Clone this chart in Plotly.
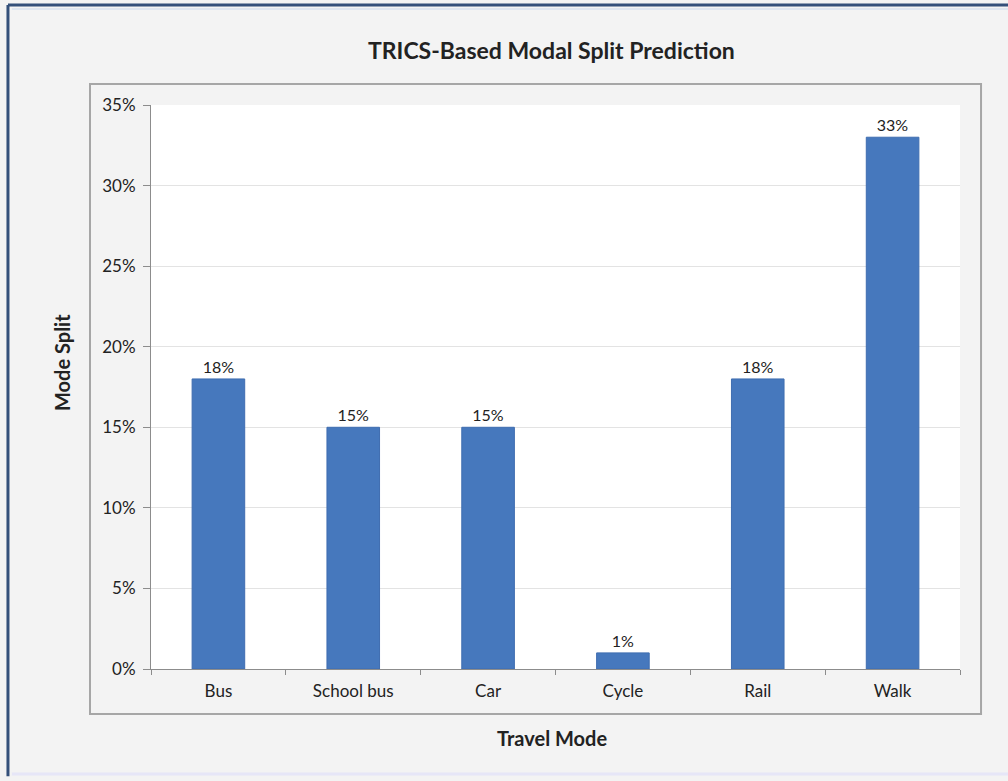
import plotly.graph_objects as go

modes = ["Bus", "School bus", "Car", "Cycle", "Rail", "Walk"]
split_pct = [18, 15, 15, 1, 18, 33]
y_ticks = [0, 5, 10, 15, 20, 25, 30, 35]
y_tick_labels = [f"{v}%" for v in y_ticks]

FONT = "Lato, 'Open Sans', sans-serif"

fig = go.Figure(
    go.Bar(
        x=modes,
        y=split_pct,
        width=0.39,
        marker=dict(color="#4678bd", line=dict(color="#3f6db0", width=1)),
        text=[f"{v}%" for v in split_pct],
        textposition="outside",
        textfont=dict(size=16, color="#222222", family=FONT),
        cliponaxis=False,
    )
)

fig.update_layout(
    width=1008,
    height=781,
    margin=dict(l=151, r=48, t=105, b=112),
    paper_bgcolor="#f3f3f3",
    plot_bgcolor="#ffffff",
    showlegend=False,
    font=dict(family=FONT, size=16, color="#222222"),
    bargap=0.61,
)

fig.update_xaxes(
    showline=True,
    linecolor="#8c8c8c",
    linewidth=1,
    ticks="outside",
    tickson="boundaries",
    ticklen=5,
    tickcolor="#8c8c8c",
    tickfont=dict(size=17, color="#222222"),
    showgrid=False,
    ticklabelstandoff=7,
)
fig.update_yaxes(
    range=[0, 35],
    tickvals=y_ticks,
    ticktext=y_tick_labels,
    showline=True,
    linecolor="#8c8c8c",
    linewidth=1,
    ticks="outside",
    ticklen=7,
    tickcolor="#8c8c8c",
    tickfont=dict(size=17, color="#222222"),
    showgrid=True,
    gridcolor="#e3e3e3",
    gridwidth=1,
    zeroline=False,
    ticklabelstandoff=4,
)

shapes = [
    # inner chart box
    dict(type="rect", xref="paper", yref="paper", x0=-0.0754, x1=1.026, y0=-0.0798, y1=1.0372,
         line=dict(color="#a6a6a6", width=2), fillcolor="rgba(0,0,0,0)", layer="below"),
    # outer frame (top and left)
    dict(type="line", xref="paper", yref="paper", x0=-0.1768, x1=1.06, y0=1.1773, y1=1.1773,
         line=dict(color="#34507a", width=3)),
    dict(type="line", xref="paper", yref="paper", x0=-0.1768, x1=-0.1768, y0=-0.19, y1=1.1773,
         line=dict(color="#34507a", width=3)),
    dict(type="line", xref="paper", yref="paper", x0=-0.172, x1=1.06, y0=1.170, y1=1.170,
         line=dict(color="#dfe6f0", width=2)),
    dict(type="line", xref="paper", yref="paper", x0=-0.172, x1=1.06, y0=-0.186, y1=-0.186,
         line=dict(color="#e6e6f7", width=3)),
]
fig.update_layout(shapes=shapes)

fig.add_annotation(text="<b>TRICS-Based Modal Split Prediction</b>", xref="paper", yref="paper",
                   x=0.4945, y=1.0975, showarrow=False, font=dict(size=23, color="#222222"),
                   xanchor="center", yanchor="middle")
fig.add_annotation(text="<b>Travel Mode</b>", xref="paper", yref="paper",
                   x=0.4957, y=-0.123, showarrow=False, font=dict(size=20, color="#222222"),
                   xanchor="center", yanchor="middle")
fig.add_annotation(text="<b>Mode Split</b>", xref="paper", yref="paper",
                   x=-0.110, y=0.5426, showarrow=False, textangle=-90,
                   font=dict(size=20, color="#222222"), xanchor="center", yanchor="middle")

fig.write_html("out.html")
